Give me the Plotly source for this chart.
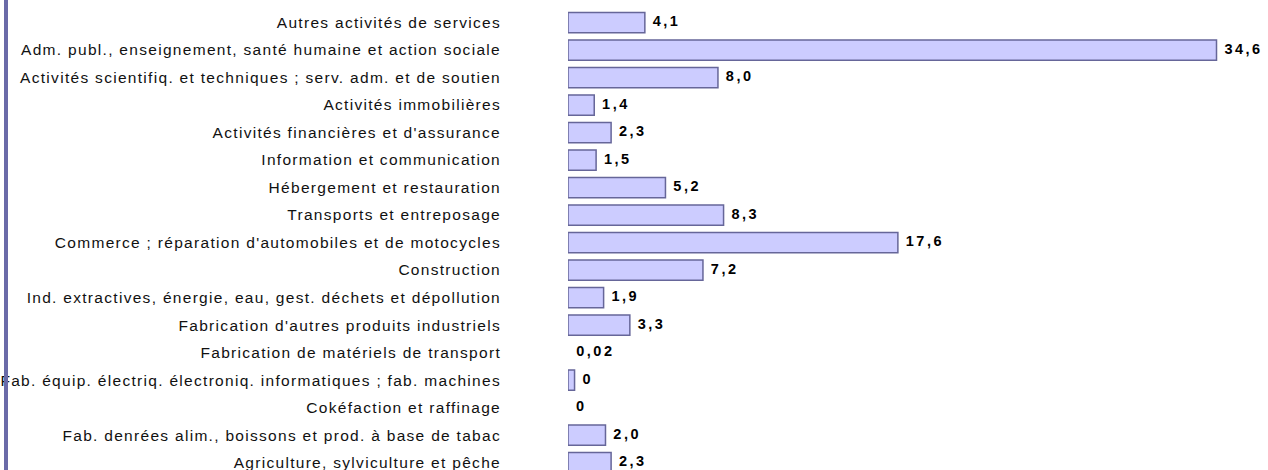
import plotly.graph_objects as go

categories = [
    "Agriculture, sylviculture et pêche",
    "Fab. denrées alim., boissons et prod. à base de tabac",
    "Cokéfaction et raffinage",
    "Fab. équip. électriq. électroniq. informatiques ; fab. machines",
    "Fabrication de matériels de transport",
    "Fabrication d'autres produits industriels",
    "Ind. extractives, énergie, eau, gest. déchets et dépollution",
    "Construction",
    "Commerce ; réparation d'automobiles et de motocycles",
    "Transports et entreposage",
    "Hébergement et restauration",
    "Information et communication",
    "Activités financières et d'assurance",
    "Activités immobilières",
    "Activités scientifiq. et techniques ; serv. adm. et de soutien",
    "Adm. publ., enseignement, santé humaine et action sociale",
    "Autres activités de services",
]
values = [2.3, 2.0, 0, 0.35, 0.02, 3.3, 1.9, 7.2, 17.6, 8.3, 5.2, 1.5, 2.3, 1.4, 8.0, 34.6, 4.1]
value_labels = ["2,3", "2,0", "0", "0", "0,02", "3,3", "1,9", "7,2", "17,6", "8,3",
                "5,2", "1,5", "2,3", "1,4", "8,0", "34,6", "4,1"]

X_MAX = 36.6
PLOT_W = 1268 - 568 - 14
px_per_unit = PLOT_W / X_MAX
visible = [v * px_per_unit >= 1 for v in values]
line_widths = [1.5 if s else 0 for s in visible]
fill_colors = ["#ccccff" if s else "rgba(0,0,0,0)" for s in visible]

fig = go.Figure()
fig.add_trace(go.Bar(
    y=categories,
    x=values,
    orientation="h",
    marker=dict(color=fill_colors, line=dict(color="#666699", width=line_widths)),
    width=0.74,
    hoverinfo="skip",
))
fig.add_trace(go.Scatter(
    y=categories,
    x=values,
    mode="markers+text",
    marker=dict(size=11, opacity=0, color="white"),
    text=value_labels,
    textposition="middle right",
    textfont=dict(family="Liberation Sans, Arial", size=14.5, color="#000000", weight="bold"),
    cliponaxis=False,
    hoverinfo="skip",
))

fig.update_layout(
    width=1268,
    height=470,
    margin=dict(l=568, r=14, t=0, b=0),
    paper_bgcolor="white",
    plot_bgcolor="white",
    showlegend=False,
    font=dict(family="Liberation Sans, Arial", size=15.5, color="#111111"),
    xaxis=dict(range=[0, X_MAX], visible=False, fixedrange=True),
    yaxis=dict(
        range=[-0.27, 16.82],
        showgrid=False,
        zeroline=False,
        showline=False,
        ticks="",
        ticklabelstandoff=66,
        tickfont=dict(size=15.5, family="Liberation Sans, Arial", color="#111111"),
        fixedrange=True,
    ),
    shapes=[dict(
        type="rect", xref="paper", yref="paper", xsizemode="pixel", xanchor=0,
        x0=-564, x1=-560, y0=0, y1=1, fillcolor="#6b6ba8", line=dict(width=0),
    )],
)

post = """
document.body.style.margin='0';
var gd=document.getElementById('{plot_id}');
function sp(){
  gd.querySelectorAll('.ytick text').forEach(function(t){t.style.letterSpacing='1.3px';});
  gd.querySelectorAll('.textpoint text').forEach(function(t){t.style.letterSpacing='2.5px';});
}
sp();
gd.on('plotly_afterplot', sp);
"""

fig.write_html("out.html", post_script=post, config={"displayModeBar": False})
